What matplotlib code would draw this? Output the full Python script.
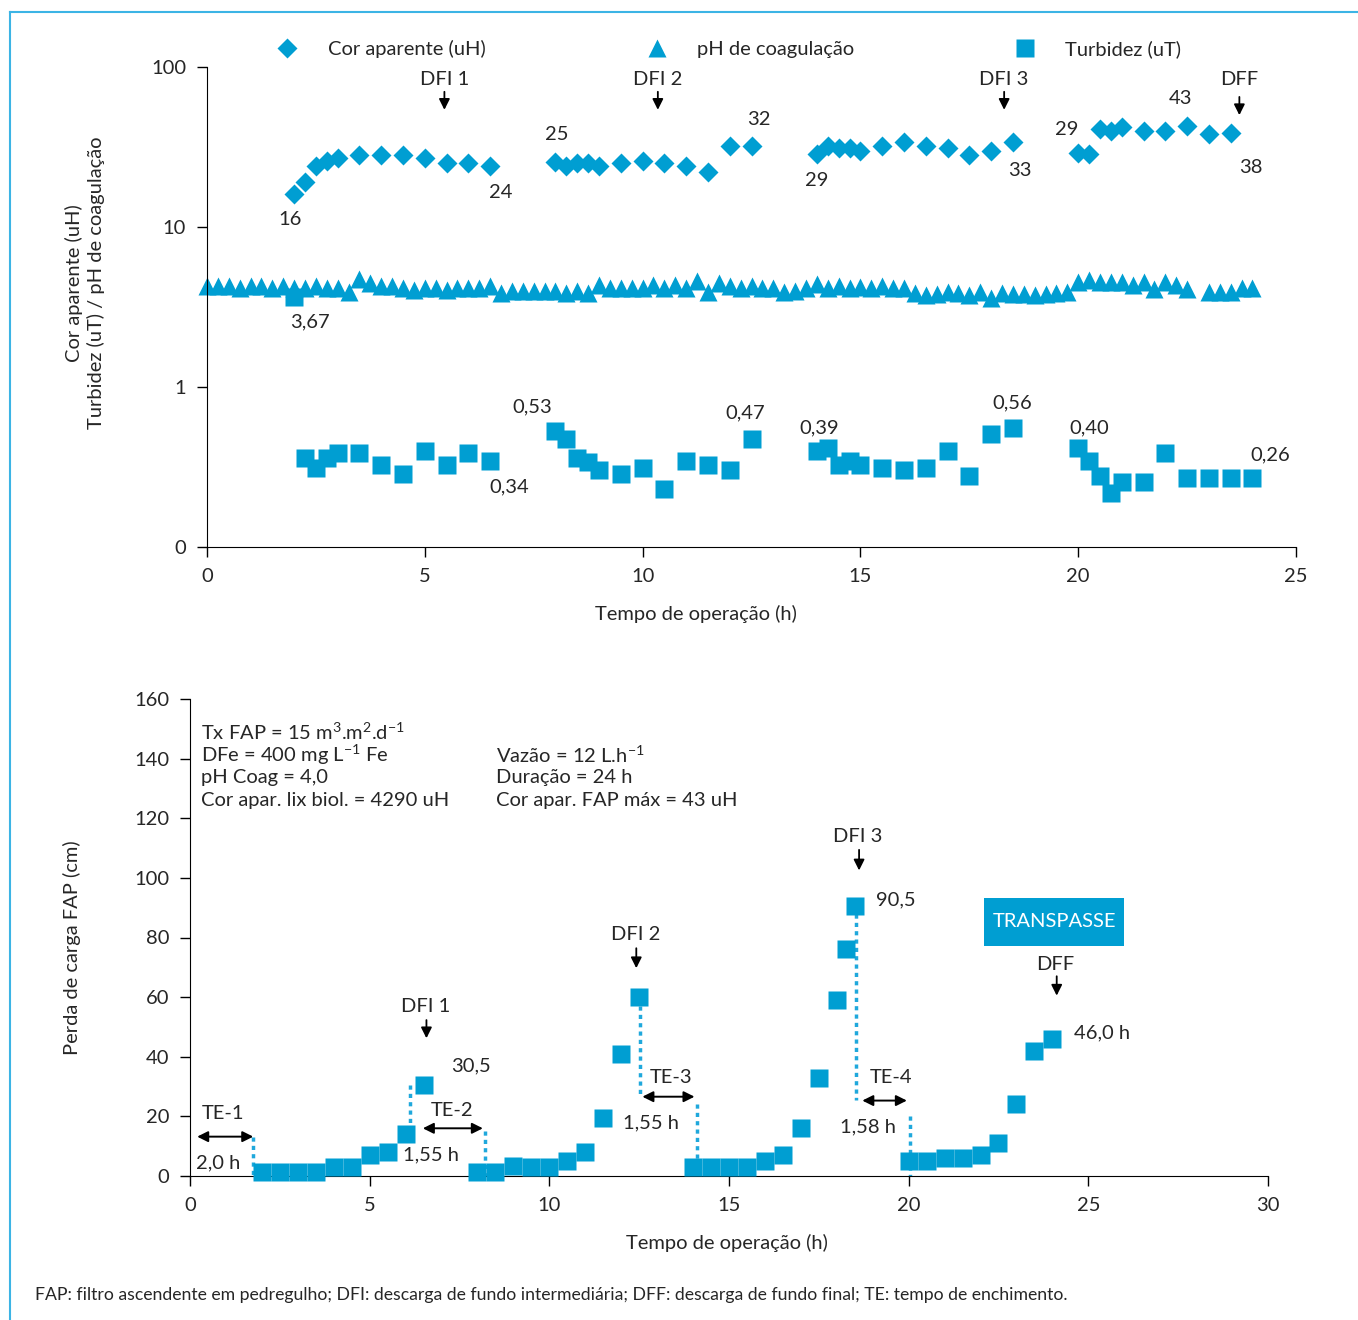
import matplotlib.pyplot as plt
from matplotlib.patches import Rectangle
from matplotlib.lines import Line2D

plt.rcParams['font.family'] = ['Lato', 'DejaVu Sans']
plt.rcParams['text.color'] = '#262626'
plt.rcParams['mathtext.fontset'] = 'custom'
plt.rcParams['mathtext.rm'] = 'Lato'
plt.rcParams['mathtext.default'] = 'regular'

BLUE = '#009ed2'
DOT = '#1fa8dc'

# ---- top chart data ----
cor_t = [2.0, 2.25, 2.5, 2.75, 3.0, 3.5, 4.0, 4.5, 5.0, 5.5, 6.0, 6.5,
         8.0, 8.25, 8.5, 8.75, 9.0, 9.5, 10.0, 10.5, 11.0, 11.5, 12.0, 12.5,
         14.0, 14.25, 14.5, 14.75, 15.0, 15.5, 16.0, 16.5, 17.0, 17.5, 18.0, 18.5,
         20.0, 20.25, 20.5, 20.75, 21.0, 21.5, 22.0, 22.5, 23.0, 23.5]
cor_v = [16, 19, 24, 26, 27, 28, 28, 28, 27, 25, 25, 24,
         25.5, 24, 25, 25, 24, 25, 26, 25, 24, 22, 32, 32,
         28.5, 32, 31, 31, 30, 32, 34, 32, 31, 28, 30, 34,
         29, 28.5, 41, 40, 42, 40, 40, 43, 38, 38.5]

ph_t = [i * 0.25 for i in range(97) if i != 91]
ph_v = [4.25, 4.3, 4.3, 4.15, 4.3, 4.3, 4.15, 4.3, 4.15, 4.15, 4.3, 4.15,
        4.15, 3.9, 4.75, 4.45, 4.3, 4.3, 4.15, 4.05, 4.15, 4.15, 4.05, 4.15,
        4.15, 4.15, 4.25, 3.88, 3.98, 3.98, 3.98, 3.98, 3.98, 3.88, 3.98, 3.85,
        4.35, 4.15, 4.15, 4.15, 4.15, 4.35, 4.15, 4.35, 4.15, 4.6, 3.9, 4.45,
        4.28, 4.15, 4.25, 4.15, 4.15, 3.95, 4.0, 4.15, 4.4, 4.15, 4.28, 4.15,
        4.2, 4.15, 4.25, 4.15, 4.15, 3.88, 3.76, 3.82, 3.95, 3.85, 3.76, 3.95,
        3.6, 3.88, 3.82, 3.8, 3.76, 3.8, 3.88, 3.95, 4.5, 4.65, 4.55, 4.55,
        4.55, 4.35, 4.5, 4.08, 4.5, 4.35, 4.08, 3.95, 3.95, 3.95, 4.15, 4.15]
ph_min_t = [2.0]
ph_min_v = [3.67]

turb_t = [2.25, 2.5, 2.75, 3.0, 3.5, 4.0, 4.5, 5.0, 5.5, 6.0, 6.5,
          8.0, 8.25, 8.5, 8.75, 9.0, 9.5, 10.0, 10.5, 11.0, 11.5, 12.0, 12.5,
          14.0, 14.25, 14.5, 14.75, 15.0, 15.5, 16.0, 16.5, 17.0, 17.5, 18.0, 18.5,
          20.0, 20.25, 20.5, 20.75, 21.0, 21.5, 22.0, 22.5, 23.0, 23.5, 24.0]
turb_v = [0.36, 0.31, 0.36, 0.385, 0.385, 0.325, 0.284, 0.398, 0.325, 0.385, 0.345,
          0.533, 0.471, 0.36, 0.341, 0.303, 0.284, 0.31, 0.23, 0.345, 0.325, 0.303, 0.47,
          0.398, 0.414, 0.325, 0.345, 0.325, 0.31, 0.303, 0.31, 0.398, 0.278, 0.51, 0.555,
          0.414, 0.345, 0.278, 0.217, 0.254, 0.254, 0.385, 0.268, 0.268, 0.268, 0.268]

top_labels = ['16', '24', '25', '32', '29', '33', '29', '43', '38',
              '3,67', '0,53', '0,34', '0,47', '0,39', '0,56', '0,40', '0,26']
top_label_t = [1.9, 6.75, 8.03, 12.67, 14.0, 18.66, 19.74, 22.34, 23.97,
               2.36, 7.46, 6.93, 12.35, 14.05, 18.48, 20.25, 24.4]
top_label_v = [11.2, 16.5, 37.6, 47.3, 19.4, 22.7, 40.4, 64, 23.4,
               2.55, 0.75, 0.237, 0.688, 0.554, 0.794, 0.554, 0.376]

dfi_names = ['DFI 1', 'DFI 2', 'DFI 3', 'DFF']
dfi_t = [5.45, 10.35, 18.3, 23.7]

# ---- bottom chart data ----
perda_t = [2.0, 2.5, 3.0, 3.5, 4.0, 4.5, 5.0, 5.5, 6.0, 6.5,
           8.0, 8.5, 9.0, 9.5, 10.0, 10.5, 11.0, 11.5, 12.0, 12.5,
           14.0, 14.5, 15.0, 15.5, 16.0, 16.5, 17.0, 17.5, 18.0, 18.25, 18.5,
           20.0, 20.5, 21.0, 21.5, 22.0, 22.5, 23.0, 23.5, 24.0]
perda_v = [1.5, 1.5, 1.5, 1.5, 3, 3, 7, 8, 14, 30.5,
           1.5, 1.5, 3.5, 3, 3, 5, 8, 19.5, 41, 60,
           3, 3, 3, 3, 5, 7, 16, 33, 59, 76, 90.5,
           5, 5, 6, 6, 7, 11, 24, 42, 46]

te_names = ['TE-1', 'TE-2', 'TE-3', 'TE-4']
te_start = [0.2, 6.48, 12.59, 18.71]
te_end = [1.76, 8.15, 14.04, 19.95]
te_level = [13.2, 16, 26.6, 25.3]
te_dur = ['2,0 h', '1,55 h', '1,55 h', '1,58 h']
te_dur_t = [0.79, 6.71, 12.84, 18.88]
te_dur_v = [4.4, 7, 17.7, 16.5]
te_name_t = [0.92, 7.3, 13.4, 19.5]
te_name_v = [21, 22, 33, 33]

# dotted drop lines: x, y from, y to
drop_x = [1.76, 6.13, 8.22, 12.51, 14.1, 18.54, 20.03]
drop_y0 = [13, 30.5, 15, 57, 24, 88, 20]
drop_y1 = [0, 13, 0, 26.6, 0, 25.5, 0]

fig = plt.figure(figsize=(13.58, 13.2), dpi=100)

# light blue frame
fig.add_artist(Line2D([10 / 1358, 1], [1 - 12 / 1320, 1 - 12 / 1320], color='#3cb4e5', lw=1.5))
fig.add_artist(Line2D([10 / 1358, 10 / 1358], [0, 1 - 12 / 1320], color='#3cb4e5', lw=1.5))

fs = 14.5

# ================= top chart =================
ax = fig.add_axes([207 / 1358, 1 - 547 / 1320, 1089 / 1358, 480 / 1320])
ax.set_yscale('log')
ax.set_ylim(0.1, 100)
ax.set_xlim(0, 25)
ax.set_yticks([0.1, 1, 10, 100])
ax.set_yticklabels(['0', '1', '10', '100'])
ax.minorticks_off()
ax.set_xticks(range(0, 26, 5))
for s in ['top', 'right']:
    ax.spines[s].set_visible(False)
ax.tick_params(direction='out', length=7, width=1, labelsize=fs, colors='black',
               labelcolor='#262626', pad=8)

l1, = ax.plot(cor_t, cor_v, 'D', color=BLUE, ms=10.5, mec='none', clip_on=False,
              label='Cor aparente (uH)')
l2, = ax.plot(ph_t, ph_v, '^', color=BLUE, ms=13, mec='none', clip_on=False,
              label='pH de coagulação')
ax.plot(ph_min_t, ph_min_v, 's', color=BLUE, ms=13, mec='none', clip_on=False)
l3, = ax.plot(turb_t, turb_v, 's', color=BLUE, ms=13, mec='none', clip_on=False,
              label='Turbidez (uT)')

for txt, t, v in zip(top_labels, top_label_t, top_label_v):
    ax.text(t, v, txt, ha='center', va='center', fontsize=fs)

for name, t in zip(dfi_names, dfi_t):
    tip, tail = (54, 70) if name != 'DFF' else (50, 65)
    ax.text(t, 84, name, ha='center', va='center', fontsize=fs)
    ax.annotate('', xy=(t, tip), xytext=(t, tail),
                arrowprops=dict(arrowstyle='-|>', color='black', lw=1.3,
                                mutation_scale=16, shrinkA=0, shrinkB=0))

ax.legend(handles=[l1, l2, l3], loc='center', bbox_to_anchor=(0.475, 1.037),
          ncol=3, frameon=False, fontsize=fs, handletextpad=1.0,
          columnspacing=7.5, handlelength=2)

fig.text(85 / 1358, 1 - 283 / 1320, 'Cor aparente (uH)\nTurbidez (uT) / pH de coagulação',
         rotation=90, ha='center', va='center', fontsize=fs, multialignment='center',
         linespacing=1.3)
fig.text(696 / 1358, 1 - 614 / 1320, 'Tempo de operação (h)', ha='center', va='center',
         fontsize=fs)

# ================= bottom chart =================
bx = fig.add_axes([190 / 1358, 1 - 1176 / 1320, 1078 / 1358, 477 / 1320])
bx.set_xlim(0, 30)
bx.set_ylim(0, 160)
bx.set_xticks(range(0, 31, 5))
bx.set_yticks(range(0, 161, 20))
for s in ['top', 'right']:
    bx.spines[s].set_visible(False)
bx.tick_params(direction='out', length=7, width=1, labelsize=fs, colors='black',
               labelcolor='#262626', pad=8)

for x, y0, y1 in zip(drop_x, drop_y0, drop_y1):
    bx.plot([x, x], [y0, y1], color=DOT, lw=2.5, ls=(0, (1.2, 1.2)), clip_on=False)

bx.plot(perda_t, perda_v, 's', color=BLUE, ms=13, mec='none', clip_on=False, zorder=3)

for name, a, b, lev, d, dt, dv, nt, nv in zip(te_names, te_start, te_end, te_level,
                                              te_dur, te_dur_t, te_dur_v, te_name_t, te_name_v):
    bx.annotate('', xy=(a, lev), xytext=(b, lev),
                arrowprops=dict(arrowstyle='<|-|>', color='black', lw=1.4,
                                mutation_scale=16, shrinkA=0, shrinkB=0))
    bx.text(nt, nv, name, ha='center', va='center', fontsize=fs)
    bx.text(dt, dv, d, ha='center', va='center', fontsize=fs)

b_dfi = ['DFI 1', 'DFI 2', 'DFI 3', 'DFF']
b_dfi_t = [6.58, 12.42, 18.62, 24.12]
b_dfi_text_v = [57, 81, 114, 70.8]
b_dfi_tail = [52.3, 76.4, 109.4, 67]
b_dfi_tip = [46.2, 69.7, 102.5, 60.5]
for name, t, tv, a, b in zip(b_dfi, b_dfi_t, b_dfi_text_v, b_dfi_tail, b_dfi_tip):
    bx.text(t - 0.03, tv, name, ha='center', va='center', fontsize=fs)
    bx.annotate('', xy=(t, b), xytext=(t, a),
                arrowprops=dict(arrowstyle='-|>', color='black', lw=1.3,
                                mutation_scale=16, shrinkA=0, shrinkB=0))

bx.text(7.82, 36.9, '30,5', ha='center', va='center', fontsize=fs)
bx.text(19.65, 92.6, '90,5', ha='center', va='center', fontsize=fs)
bx.text(25.38, 48, '46,0 h', ha='center', va='center', fontsize=fs)

bx.add_patch(Rectangle((22.09, 77.3), 3.91, 16.0, facecolor=BLUE, edgecolor='none'))
bx.text(24.05, 85.3, 'TRANSPASSE', ha='center', va='center', fontsize=fs, color='white')

left_lines = [r'Tx FAP = 15 m$^{3}$.m$^{2}$.d$^{-1}$', r'DFe = 400 mg L$^{-1}$ Fe',
              'pH Coag = 4,0', 'Cor apar. lix biol. = 4290 uH']
left_v = [148.8, 141.2, 133.6, 126]
right_lines = [r'Vazão = 12 L.h$^{-1}$', 'Duração = 24 h', 'Cor apar. FAP máx = 43 uH']
right_v = [141.3, 133.6, 125.8]
for txt, v in zip(left_lines, left_v):
    bx.text(0.32, v, txt, ha='left', va='center', fontsize=fs)
for txt, v in zip(right_lines, right_v):
    bx.text(8.52, v, txt, ha='left', va='center', fontsize=fs)

fig.text(72 / 1358, 1 - 948 / 1320, 'Perda de carga FAP (cm)', rotation=90,
         ha='center', va='center', fontsize=fs)
fig.text(727 / 1358, 1 - 1243 / 1320, 'Tempo de operação (h)', ha='center', va='center',
         fontsize=fs)

fig.text(35 / 1358, 1 - 1295 / 1320,
         'FAP: filtro ascendente em pedregulho; DFI: descarga de fundo intermediária; '
         'DFF: descarga de fundo final; TE: tempo de enchimento.',
         ha='left', va='center', fontsize=12.7)

fig.savefig('out.png', dpi=100)
